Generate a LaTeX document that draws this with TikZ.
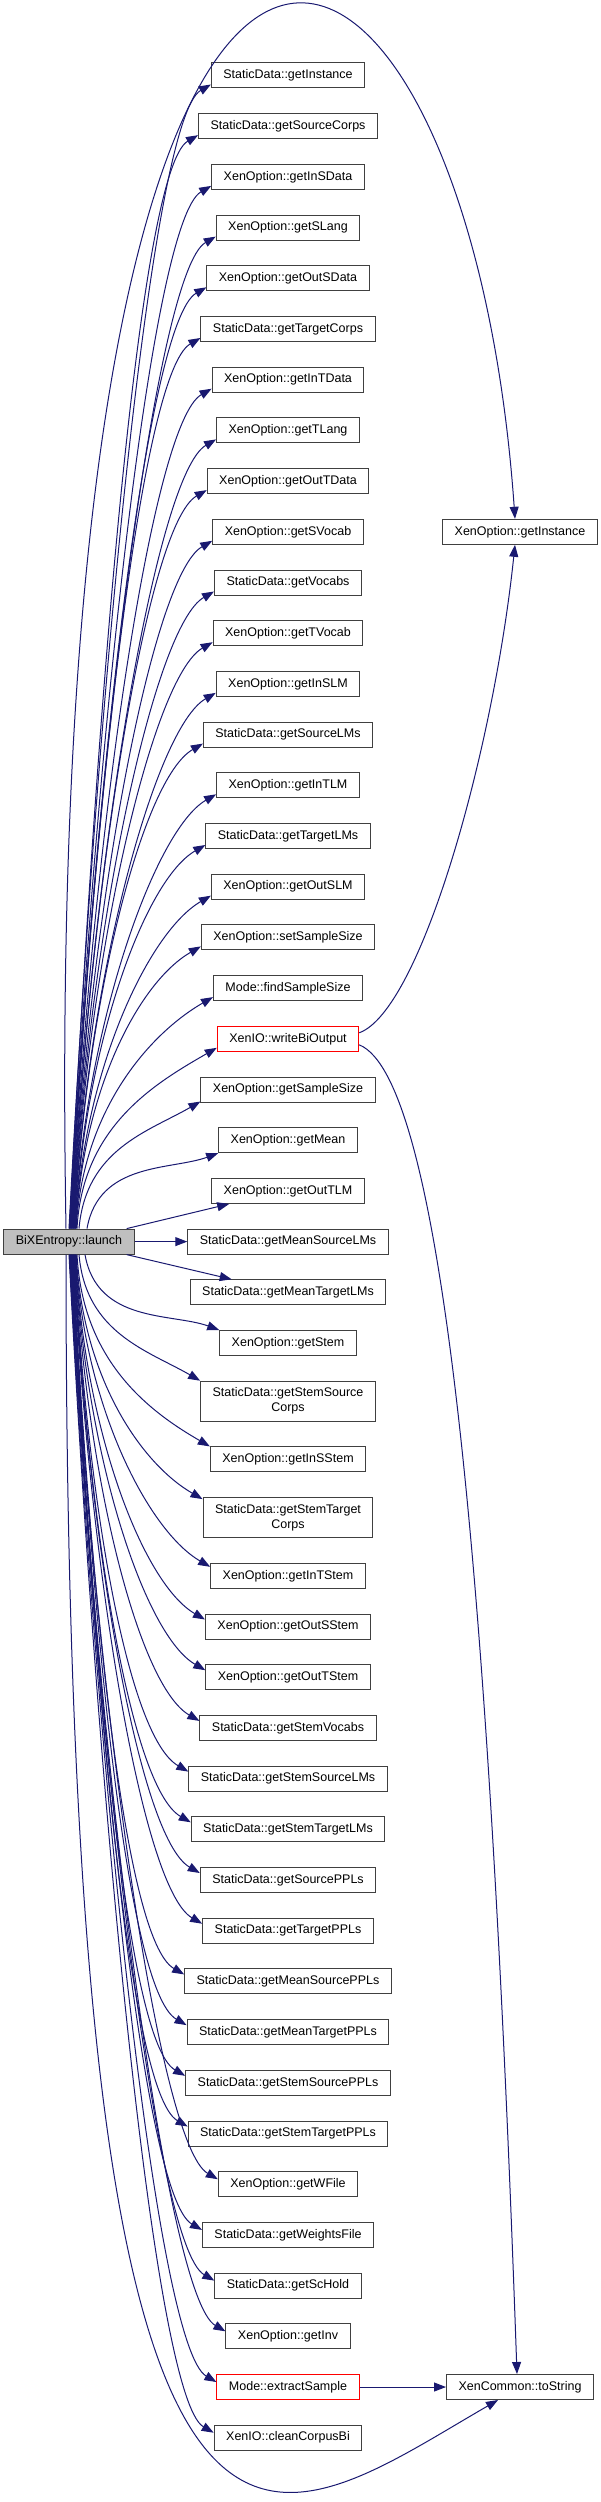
\documentclass[tikz,border=0pt]{standalone}
\usepackage{fontspec}
\setmainfont{Liberation Sans}
\usetikzlibrary{arrows.meta, positioning}
\definecolor{edgeblue}{HTML}{191970}
\definecolor{boxline}{HTML}{404040}
\definecolor{rootfill}{HTML}{BFBFBF}
\definecolor{redline}{HTML}{FF0000}

\begin{document}
\begin{tikzpicture}[
    x=1pt, y=1pt,
    node distance=24.7pt,
    fn/.style={draw=boxline, line width=1pt, fill=white, font=\fontsize{12.5}{15}\selectfont, minimum height=25pt, inner xsep=12pt, inner ysep=3pt, align=center},
    call/.style={-{Triangle[length=12pt, width=9pt]}, line width=1pt, color=edgeblue}
]
\useasboundingbox (0,0) rectangle (600,-2502);

\node[fn] (c1) at (288,-75.5) {StaticData::getInstance};
\node[fn, below=of c1] (c2) {StaticData::getSourceCorps};
\node[fn, below=of c2] (c3) {XenOption::getInSData};
\node[fn, below=of c3] (c4) {XenOption::getSLang};
\node[fn, below=of c4] (c5) {XenOption::getOutSData};
\node[fn, below=of c5] (c6) {StaticData::getTargetCorps};
\node[fn, below=of c6] (c7) {XenOption::getInTData};
\node[fn, below=of c7] (c8) {XenOption::getTLang};
\node[fn, below=of c8] (c9) {XenOption::getOutTData};
\node[fn, below=of c9] (c10) {XenOption::getSVocab};
\node[fn, below=of c10] (c11) {StaticData::getVocabs};
\node[fn, below=of c11] (c12) {XenOption::getTVocab};
\node[fn, below=of c12] (c13) {XenOption::getInSLM};
\node[fn, below=of c13] (c14) {StaticData::getSourceLMs};
\node[fn, below=of c14] (c15) {XenOption::getInTLM};
\node[fn, below=of c15] (c16) {StaticData::getTargetLMs};
\node[fn, below=of c16] (c17) {XenOption::getOutSLM};
\node[fn, below=of c17] (c18) {XenOption::setSampleSize};
\node[fn, below=of c18] (c19) {Mode::findSampleSize};
\node[fn, draw=redline, below=of c19] (c20) {XenIO::writeBiOutput};
\node[fn, below=of c20] (c21) {XenOption::getSampleSize};
\node[fn, below=of c21] (c22) {XenOption::getMean};
\node[fn, below=of c22] (c23) {XenOption::getOutTLM};
\node[fn, below=of c23] (c24) {StaticData::getMeanSourceLMs};
\node[fn, below=of c24] (c25) {StaticData::getMeanTargetLMs};
\node[fn, below=of c25] (c26) {XenOption::getStem};
\node[fn, minimum height=40pt, below=of c26] (c27) {StaticData::getStemSource\\Corps};
\node[fn, below=of c27] (c28) {XenOption::getInSStem};
\node[fn, minimum height=40pt, below=of c28] (c29) {StaticData::getStemTarget\\Corps};
\node[fn, below=of c29] (c30) {XenOption::getInTStem};
\node[fn, below=of c30] (c31) {XenOption::getOutSStem};
\node[fn, below=of c31] (c32) {XenOption::getOutTStem};
\node[fn, below=of c32] (c33) {StaticData::getStemVocabs};
\node[fn, below=of c33] (c34) {StaticData::getStemSourceLMs};
\node[fn, below=of c34] (c35) {StaticData::getStemTargetLMs};
\node[fn, below=of c35] (c36) {StaticData::getSourcePPLs};
\node[fn, below=of c36] (c37) {StaticData::getTargetPPLs};
\node[fn, below=of c37] (c38) {StaticData::getMeanSourcePPLs};
\node[fn, below=of c38] (c39) {StaticData::getMeanTargetPPLs};
\node[fn, below=of c39] (c40) {StaticData::getStemSourcePPLs};
\node[fn, below=of c40] (c41) {StaticData::getStemTargetPPLs};
\node[fn, below=of c41] (c42) {XenOption::getWFile};
\node[fn, below=of c42] (c43) {StaticData::getWeightsFile};
\node[fn, below=of c43] (c44) {StaticData::getScHold};
\node[fn, below=of c44] (c45) {XenOption::getInv};
\node[fn, draw=redline, below=of c45] (c46) {Mode::extractSample};
\node[fn, below=of c46] (c47) {XenIO::cleanCorpusBi};

\node[fn, fill=rootfill] (launch) at ([xshift=-219pt]c24) {BiXEntropy::launch};
\node[fn] (xinst) at ([xshift=232pt]c10) {XenOption::getInstance};
\node[fn] (tostr) at ([xshift=232pt]c46) {XenCommon::toString};

\draw[call] ([xshift=0pt]launch.north) .. controls +(87:519pt) and +(210:70pt) .. ([yshift=4pt]c1.south west);
\draw[call] ([xshift=0.4pt]launch.north) .. controls +(87:496pt) and +(210:70pt) .. ([yshift=4pt]c2.south west);
\draw[call] ([xshift=0.8pt]launch.north) .. controls +(87:473pt) and +(210:70pt) .. ([yshift=4pt]c3.south west);
\draw[call] ([xshift=1.2pt]launch.north) .. controls +(87:451pt) and +(210:70pt) .. ([yshift=4pt]c4.south west);
\draw[call] ([xshift=1.6pt]launch.north) .. controls +(87:428pt) and +(210:70pt) .. ([yshift=4pt]c5.south west);
\draw[call] ([xshift=2pt]launch.north) .. controls +(87:406pt) and +(210:70pt) .. ([yshift=4pt]c6.south west);
\draw[call] ([xshift=2.4pt]launch.north) .. controls +(87:383pt) and +(210:70pt) .. ([yshift=4pt]c7.south west);
\draw[call] ([xshift=2.8pt]launch.north) .. controls +(87:361pt) and +(210:70pt) .. ([yshift=4pt]c8.south west);
\draw[call] ([xshift=3.2pt]launch.north) .. controls +(87:338pt) and +(210:70pt) .. ([yshift=4pt]c9.south west);
\draw[call] ([xshift=3.6pt]launch.north) .. controls +(87:316pt) and +(210:70pt) .. ([yshift=4pt]c10.south west);
\draw[call] ([xshift=4pt]launch.north) .. controls +(87:294pt) and +(210:70pt) .. ([yshift=4pt]c11.south west);
\draw[call] ([xshift=4.4pt]launch.north) .. controls +(87:271pt) and +(210:70pt) .. ([yshift=4pt]c12.south west);
\draw[call] ([xshift=4.8pt]launch.north) .. controls +(87:249pt) and +(210:70pt) .. ([yshift=4pt]c13.south west);
\draw[call] ([xshift=5.2pt]launch.north) .. controls +(87:227pt) and +(210:70pt) .. ([yshift=4pt]c14.south west);
\draw[call] ([xshift=5.6pt]launch.north) .. controls +(87:206pt) and +(210:70pt) .. ([yshift=4pt]c15.south west);
\draw[call] ([xshift=6pt]launch.north) .. controls +(87:184pt) and +(210:70pt) .. ([yshift=4pt]c16.south west);
\draw[call] ([xshift=6.4pt]launch.north) .. controls +(87:163pt) and +(210:70pt) .. ([yshift=4pt]c17.south west);
\draw[call] ([xshift=6.8pt]launch.north) .. controls +(87:142pt) and +(210:70pt) .. ([yshift=4pt]c18.south west);
\draw[call] ([xshift=7.2pt]launch.north) .. controls +(87:122pt) and +(210:70pt) .. ([yshift=4pt]c19.south west);
\draw[call] ([xshift=8pt]launch.north) .. controls +(87:103pt) and +(210:70pt) .. ([yshift=4pt]c20.south west);
\draw[call] ([xshift=10pt]launch.north) .. controls +(85:80pt) and +(210:60pt) .. ([yshift=1pt]c21.south west);
\draw[call] ([xshift=18pt]launch.north) .. controls +(80:68pt) and +(200:50pt) .. (c22.south west);
\draw[call] ([xshift=-8pt]launch.north east) -- ([xshift=18pt]c23.south west);
\draw[call] (launch.east) -- (c24.west);
\draw[call] ([xshift=-8pt]launch.south east) -- ([xshift=42pt]c25.north west);
\draw[call] ([xshift=16pt]launch.south) .. controls +(-80:70pt) and +(160:50pt) .. (c26.north west);
\draw[call] ([xshift=10pt]launch.south) .. controls +(-85:79pt) and +(150:60pt) .. (c27.north west);
\draw[call] ([xshift=8pt]launch.south) .. controls +(-87:107pt) and +(150:70pt) .. (c28.north west);
\draw[call] ([xshift=7.2pt]launch.south) .. controls +(-87:125pt) and +(150:70pt) .. ([yshift=-2pt]c29.north west);
\draw[call] ([xshift=6.8pt]launch.south) .. controls +(-87:154pt) and +(150:70pt) .. ([yshift=-4pt]c30.north west);
\draw[call] ([xshift=6.4pt]launch.south) .. controls +(-87:181pt) and +(150:70pt) .. ([yshift=-6pt]c31.north west);
\draw[call] ([xshift=6pt]launch.south) .. controls +(-87:203pt) and +(150:70pt) .. ([yshift=-6pt]c32.north west);
\draw[call] ([xshift=5.6pt]launch.south) .. controls +(-87:225pt) and +(150:70pt) .. ([yshift=-6pt]c33.north west);
\draw[call] ([xshift=5.2pt]launch.south) .. controls +(-87:247pt) and +(150:70pt) .. ([yshift=-6pt]c34.north west);
\draw[call] ([xshift=4.8pt]launch.south) .. controls +(-87:269pt) and +(150:70pt) .. ([yshift=-6pt]c35.north west);
\draw[call] ([xshift=4.4pt]launch.south) .. controls +(-87:291pt) and +(150:70pt) .. ([yshift=-6pt]c36.north west);
\draw[call] ([xshift=4pt]launch.south) .. controls +(-87:313pt) and +(150:70pt) .. ([yshift=-6pt]c37.north west);
\draw[call] ([xshift=3.6pt]launch.south) .. controls +(-87:336pt) and +(150:70pt) .. ([yshift=-6pt]c38.north west);
\draw[call] ([xshift=3.2pt]launch.south) .. controls +(-87:358pt) and +(150:70pt) .. ([yshift=-6pt]c39.north west);
\draw[call] ([xshift=2.8pt]launch.south) .. controls +(-87:381pt) and +(150:70pt) .. ([yshift=-6pt]c40.north west);
\draw[call] ([xshift=2.4pt]launch.south) .. controls +(-87:403pt) and +(150:70pt) .. ([yshift=-6pt]c41.north west);
\draw[call] ([xshift=2pt]launch.south) .. controls +(-87:426pt) and +(150:70pt) .. ([yshift=-8pt]c42.north west);
\draw[call] ([xshift=1.6pt]launch.south) .. controls +(-87:449pt) and +(150:70pt) .. ([yshift=-8pt]c43.north west);
\draw[call] ([xshift=1.2pt]launch.south) .. controls +(-87:471pt) and +(150:70pt) .. ([yshift=-8pt]c44.north west);
\draw[call] ([xshift=0.8pt]launch.south) .. controls +(-87:494pt) and +(150:70pt) .. ([yshift=-8pt]c45.north west);
\draw[call] ([xshift=0.4pt]launch.south) .. controls +(-87:517pt) and +(150:70pt) .. ([yshift=-8pt]c46.north west);
\draw[call] ([xshift=0pt]launch.south) .. controls +(-87:539pt) and +(150:70pt) .. ([yshift=-8pt]c47.north west);

\draw[call] ([xshift=-3pt]launch.north) .. controls +(91:1600pt) and +(94:690pt) .. ([xshift=-5pt]xinst.north);
\draw[call] ([xshift=-3pt]launch.south) .. controls +(-90:1466pt) and +(210:275pt) .. ([xshift=-22pt]tostr.south);
\draw[call] ([yshift=6pt]c20.east) .. controls +(20:65pt) and +(-96:210pt) .. ([xshift=-5pt]xinst.south);
\draw[call] ([yshift=-6pt]c20.east) .. controls +(-22:90pt) and +(92:800pt) .. ([xshift=-3pt]tostr.north);
\draw[call] (c46.east) -- (tostr.west);
\end{tikzpicture}
\end{document}
